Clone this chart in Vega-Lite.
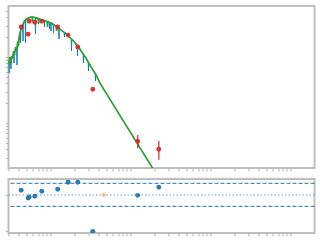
{
  "$schema": "https://vega.github.io/schema/vega-lite/v6.json",
  "padding": {"left": 3.5, "top": 5, "right": 3, "bottom": 3},
  "spacing": 11,
  "bounds": "flush",
  "config": {
    "view": {"stroke": "#bfbfbf", "strokeWidth": 2},
    "axis": {"labels": false, "domain": false, "grid": false, "tickColor": "#b5b5b5", "tickWidth": 1, "tickSize": 3}
  },
  "datasets": {
    "phot": [
      {"wl": 0.430, "flux": 2.85e-9, "lo": 2.79e-9, "hi": 2.91e-9, "resid": 0.26, "used": true},
      {"wl": 0.526, "flux": 2.21e-9, "lo": 2.16e-9, "hi": 2.26e-9, "resid": -0.17, "used": true},
      {"wl": 0.542, "flux": 3.48e-9, "lo": 3.41e-9, "hi": 3.55e-9, "resid": -0.11, "used": true},
      {"wl": 0.637, "flux": 3.36e-9, "lo": 3.29e-9, "hi": 3.43e-9, "resid": -0.07, "used": true},
      {"wl": 0.778, "flux": 3.48e-9, "lo": 3.41e-9, "hi": 3.55e-9, "resid": 0.21, "used": true},
      {"wl": 1.23, "flux": 2.85e-9, "lo": 2.79e-9, "hi": 2.91e-9, "resid": 0.32, "used": true},
      {"wl": 1.66, "flux": 2.15e-9, "lo": 2.10e-9, "hi": 2.20e-9, "resid": 0.71, "used": true},
      {"wl": 2.19, "flux": 1.42e-9, "lo": 1.39e-9, "hi": 1.45e-9, "resid": 0.71, "used": true},
      {"wl": 3.38, "flux": 3.24e-10, "lo": 3.17e-10, "hi": 3.31e-10, "resid": -2.02, "used": true},
      {"wl": 4.64, "flux": 1e-30, "lo": 1e-30, "hi": 1e-30, "resid": 0.0, "used": false},
      {"wl": 12.3, "flux": 5.28e-11, "lo": 4.14e-11, "hi": 6.58e-11, "resid": -0.02, "used": true},
      {"wl": 22.6, "flux": 4.0e-11, "lo": 2.78e-11, "hi": 5.33e-11, "resid": 0.43, "used": true}
    ],
    "model": [
      {"wl": 0.2985, "flux": 7.06e-10}, {"wl": 0.3073, "flux": 1.0e-9}, {"wl": 0.3162, "flux": 8.11e-10},
      {"wl": 0.3255, "flux": 1.035e-9}, {"wl": 0.3350, "flux": 9.33e-10}, {"wl": 0.3449, "flux": 1.233e-9},
      {"wl": 0.3548, "flux": 1.072e-9}, {"wl": 0.3652, "flux": 1.418e-9}, {"wl": 0.3758, "flux": 1.233e-9},
      {"wl": 0.3869, "flux": 1.630e-9}, {"wl": 0.3981, "flux": 1.519e-9}, {"wl": 0.4098, "flux": 2.154e-9},
      {"wl": 0.4217, "flux": 2.477e-9}, {"wl": 0.4340, "flux": 2.848e-9}, {"wl": 0.4467, "flux": 3.054e-9},
      {"wl": 0.4732, "flux": 3.511e-9}, {"wl": 0.5012, "flux": 3.765e-9}, {"wl": 0.5309, "flux": 3.899e-9},
      {"wl": 0.5623, "flux": 4.037e-9}, {"wl": 0.5904, "flux": 4.037e-9}, {"wl": 0.5957, "flux": 3.391e-9},
      {"wl": 0.6009, "flux": 4.037e-9}, {"wl": 0.6131, "flux": 4.037e-9}, {"wl": 0.6683, "flux": 3.899e-9},
      {"wl": 0.7018, "flux": 3.804e-9}, {"wl": 0.7079, "flux": 3.162e-9}, {"wl": 0.7141, "flux": 3.804e-9},
      {"wl": 0.7286, "flux": 3.765e-9}, {"wl": 0.7943, "flux": 3.636e-9}, {"wl": 0.8660, "flux": 3.511e-9},
      {"wl": 0.9094, "flux": 3.426e-9}, {"wl": 0.9173, "flux": 2.848e-9}, {"wl": 0.9252, "flux": 3.426e-9},
      {"wl": 0.9441, "flux": 3.391e-9}, {"wl": 1.029, "flux": 3.275e-9}, {"wl": 1.122, "flux": 3.054e-9},
      {"wl": 1.178, "flux": 2.899e-9}, {"wl": 1.189, "flux": 2.477e-9}, {"wl": 1.199, "flux": 2.899e-9},
      {"wl": 1.259, "flux": 2.750e-9}, {"wl": 1.413, "flux": 2.477e-9}, {"wl": 1.585, "flux": 2.231e-9},
      {"wl": 1.778, "flux": 1.941e-9}, {"wl": 1.995, "flux": 1.688e-9}, {"wl": 2.239, "flux": 1.418e-9},
      {"wl": 2.512, "flux": 1.150e-9}, {"wl": 2.818, "flux": 9.33e-10}, {"wl": 3.162, "flux": 7.31e-10},
      {"wl": 3.652, "flux": 5.53e-10}, {"wl": 4.217, "flux": 3.90e-10}, {"wl": 18.84, "flux": 2.08e-11},
      {"wl": 23.71, "flux": 1.32e-11}
    ],
    "spectrum": [
      {"wl": 0.2985, "flux": 8.11e-10}, {"wl": 0.3003, "flux": 8.70e-10}, {"wl": 0.3029, "flux": 5.72e-10},
      {"wl": 0.3055, "flux": 8.70e-10}, {"wl": 0.3181, "flux": 9.33e-10}, {"wl": 0.3208, "flux": 6.58e-10},
      {"wl": 0.3236, "flux": 9.33e-10}, {"wl": 0.3467, "flux": 1.150e-9}, {"wl": 0.3497, "flux": 8.11e-10},
      {"wl": 0.3528, "flux": 1.150e-9}, {"wl": 0.3780, "flux": 1.418e-9}, {"wl": 0.3813, "flux": 7.56e-10},
      {"wl": 0.3846, "flux": 1.418e-9}, {"wl": 0.4181, "flux": 2.392e-9}, {"wl": 0.4217, "flux": 1.630e-9},
      {"wl": 0.4254, "flux": 2.565e-9}, {"wl": 0.4493, "flux": 3.108e-9}, {"wl": 0.4532, "flux": 1.748e-9},
      {"wl": 0.4571, "flux": 3.218e-9}, {"wl": 0.4827, "flux": 3.636e-9}, {"wl": 0.4870, "flux": 1.630e-9},
      {"wl": 0.4912, "flux": 3.636e-9}, {"wl": 0.5623, "flux": 4.037e-9}, {"wl": 0.6438, "flux": 3.967e-9},
      {"wl": 0.6494, "flux": 2.231e-9}, {"wl": 0.6551, "flux": 3.967e-9}, {"wl": 0.8342, "flux": 3.573e-9},
      {"wl": 0.8414, "flux": 2.848e-9}, {"wl": 0.8487, "flux": 3.573e-9}, {"wl": 0.9633, "flux": 3.391e-9},
      {"wl": 0.9716, "flux": 2.656e-9}, {"wl": 0.9800, "flux": 3.391e-9}, {"wl": 1.006, "flux": 3.275e-9},
      {"wl": 1.0145, "flux": 2.477e-9}, {"wl": 1.023, "flux": 3.275e-9}, {"wl": 1.081, "flux": 3.108e-9},
      {"wl": 1.090, "flux": 2.310e-9}, {"wl": 1.100, "flux": 3.108e-9}, {"wl": 1.266, "flux": 2.703e-9},
      {"wl": 1.277, "flux": 1.874e-9}, {"wl": 1.288, "flux": 2.703e-9}, {"wl": 1.483, "flux": 2.350e-9},
      {"wl": 1.496, "flux": 2.009e-9}, {"wl": 1.509, "flux": 2.350e-9}, {"wl": 1.814, "flux": 1.874e-9},
      {"wl": 1.830, "flux": 1.233e-9}, {"wl": 1.846, "flux": 1.874e-9}, {"wl": 2.157, "flux": 1.468e-9},
      {"wl": 2.175, "flux": 1.036e-9}, {"wl": 2.194, "flux": 1.468e-9}, {"wl": 2.563, "flux": 1.091e-9},
      {"wl": 2.585, "flux": 8.11e-10}, {"wl": 2.607, "flux": 1.091e-9}, {"wl": 2.960, "flux": 8.25e-10},
      {"wl": 2.985, "flux": 6.14e-10}, {"wl": 3.011, "flux": 8.25e-10}, {"wl": 3.621, "flux": 5.53e-10},
      {"wl": 3.652, "flux": 4.33e-10}, {"wl": 3.683, "flux": 5.53e-10}, {"wl": 4.217, "flux": 3.90e-10}
    ]
  },
  "vconcat": [
    {
      "width": 306,
      "height": 162,
      "layer": [
        {
          "data": {"name": "spectrum"},
          "mark": {"type": "line", "color": "#1f77b4", "strokeWidth": 1, "clip": true},
          "encoding": {
            "x": {
              "field": "wl", "type": "quantitative",
              "scale": {"type": "log", "domain": [0.2985, 1995], "nice": false},
              "axis": {
                "title": null,
                "values": [0.3,0.4,0.5,0.6,0.7,0.8,0.9,1,2,3,4,5,6,7,8,9,10,20,30,40,50,60,70,80,90,100,200,300,400,500,600,700,800,900,1000]
              }
            },
            "y": {
              "field": "flux", "type": "quantitative",
              "scale": {"type": "log", "domain": [2.08e-11, 5.93e-9], "nice": false},
              "axis": {
                "title": null,
                "values": [3e-11,4e-11,5e-11,6e-11,7e-11,8e-11,9e-11,1e-10,2e-10,3e-10,4e-10,5e-10,6e-10,7e-10,8e-10,9e-10,1e-9,2e-9,3e-9,4e-9,5e-9]
              }
            }
          }
        },
        {
          "data": {"name": "model"},
          "mark": {"type": "line", "color": "#2ca02c", "strokeWidth": 1.6, "clip": true},
          "encoding": {
            "x": {"field": "wl", "type": "quantitative"},
            "y": {"field": "flux", "type": "quantitative"}
          }
        },
        {
          "data": {"name": "phot"},
          "transform": [{"filter": "datum.used"}],
          "mark": {"type": "rule", "color": "#d62728", "strokeWidth": 1.2, "clip": true},
          "encoding": {
            "x": {"field": "wl", "type": "quantitative"},
            "y": {"field": "lo", "type": "quantitative"},
            "y2": {"field": "hi"}
          }
        },
        {
          "data": {"name": "phot"},
          "transform": [{"filter": "datum.used"}],
          "mark": {"type": "circle", "color": "#d62728", "size": 24, "opacity": 0.9, "clip": true},
          "encoding": {
            "x": {"field": "wl", "type": "quantitative"},
            "y": {"field": "flux", "type": "quantitative"}
          }
        }
      ]
    },
    {
      "width": 306,
      "height": 54,
      "layer": [
        {
          "data": {"values": [{"r": 0.65}, {"r": -0.63}]},
          "mark": {"type": "rule", "color": "#1f77b4", "strokeWidth": 1, "strokeDash": [4, 2]},
          "encoding": {"y": {"field": "r", "type": "quantitative", "scale": {"domain": [-2.111, 0.889], "nice": false}, "axis": {"title": null, "values": [0, -1, -2]}}}
        },
        {
          "data": {"values": [{"r": 0}]},
          "mark": {"type": "rule", "color": "#1f77b4", "opacity": 0.7, "strokeWidth": 1, "strokeDash": [1.5, 2]},
          "encoding": {"y": {"field": "r", "type": "quantitative"}}
        },
        {
          "data": {"name": "phot"},
          "mark": {"type": "circle", "size": 24, "clip": true},
          "encoding": {
            "x": {
              "field": "wl", "type": "quantitative",
              "scale": {"type": "log", "domain": [0.2985, 1995], "nice": false},
              "axis": {
                "title": null,
                "values": [0.3,0.4,0.5,0.6,0.7,0.8,0.9,1,2,3,4,5,6,7,8,9,10,20,30,40,50,60,70,80,90,100,200,300,400,500,600,700,800,900,1000]
              }
            },
            "y": {"field": "resid", "type": "quantitative"},
            "color": {"condition": {"test": "datum.used", "value": "#1f77b4"}, "value": "#ffb27a"},
            "opacity": {"condition": {"test": "datum.used", "value": 0.95}, "value": 0.6}
          }
        }
      ]
    }
  ]
}
